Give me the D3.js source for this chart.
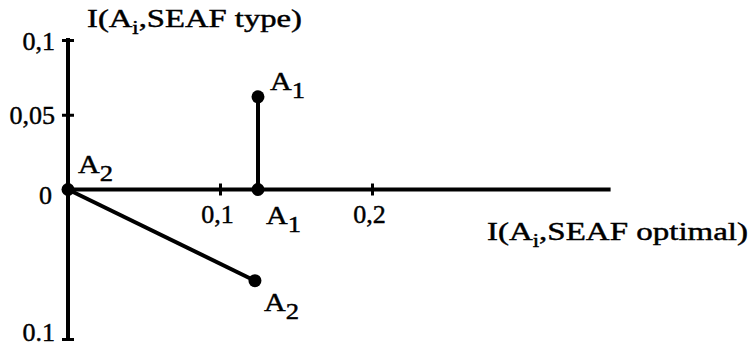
<!DOCTYPE html>
<html>
<head>
<meta charset="utf-8">
<script src="https://cdn.jsdelivr.net/npm/d3@7"></script>
<style>
  html, body { margin: 0; padding: 0; background: #fff; }
  svg text { font-family: "Liberation Serif", "Times New Roman", serif; fill: #000; stroke: #000; stroke-width: 0.45px; }
</style>
</head>
<body>
<svg id="chart" width="751" height="347"></svg>
<script>
// Alternatives and the two ends of each segment
const alternatives = ["1", "2"];
const optimalStart = [0.125, 0];      // I(Ai, SEAF optimal) at the first end
const typeStart    = [0, 0];          // I(Ai, SEAF type) at the first end
const optimalEnd   = [0.125, 0.123];  // I(Ai, SEAF optimal) at the second end
const typeEnd      = [0.062, -0.061]; // I(Ai, SEAF type) at the second end

// Axis ticks
const xTickValues = [0.1, 0.2];
const xTickLabels = ["0,1", "0,2"];
const yTickValues = [0.1, 0.05, 0, -0.1];
const yTickLabels = ["0,1", "0,05", "0", "0.1"];

const svg = d3.select("#chart");
const x = d3.scaleLinear().domain([0, 0.357]).range([68, 610.6]);
const y = d3.scaleLinear().domain([-0.1, 0.1]).range([339, 40]);
const x0 = x(0), y0 = y(0);

// Horizontal axis
const xAxis = svg.append("g")
  .attr("transform", `translate(0,${y0})`)
  .call(d3.axisBottom(x).tickValues(xTickValues).tickSize(0).tickFormat((d, i) => xTickLabels[i]));
xAxis.select(".domain").attr("stroke", "#000").attr("stroke-width", 4).attr("d", `M${x.range()[0]},0H${x.range()[1]}`);
xAxis.selectAll(".tick line").attr("y1", -6).attr("y2", 6).attr("stroke", "#000").attr("stroke-width", 3);
xAxis.selectAll(".tick text").attr("y", 33).attr("dy", null).attr("font-size", 26).attr("dx", -3);

// Vertical axis
const yAxis = svg.append("g")
  .attr("transform", `translate(${x0},0)`)
  .call(d3.axisLeft(y).tickValues(yTickValues).tickSize(0).tickFormat((d, i) => yTickLabels[i]));
yAxis.select(".domain").attr("stroke", "#000").attr("stroke-width", 4).attr("d", `M0,${y.range()[1] - 2}V${y.range()[0]}`);
yAxis.selectAll(".tick line").attr("x1", -6).attr("x2", 6).attr("stroke", "#000").attr("stroke-width", 3)
  .filter(d => d === 0).remove();
yAxis.selectAll(".tick text").attr("x", -13).attr("dy", "0.35em").attr("font-size", 26)
  .filter(d => d === 0).attr("dy", "0.55em").attr("x", -16);
yAxis.selectAll(".tick text").filter(d => d === -0.1).attr("dy", "0.04em");

// Axis titles
const yTitle = svg.append("text").attr("x", 87).attr("y", 27).attr("font-size", 26)
  .attr("textLength", 215).attr("lengthAdjust", "spacingAndGlyphs");
yTitle.append("tspan").text("I(A");
yTitle.append("tspan").attr("font-size", 18).attr("dy", 7).text("i");
yTitle.append("tspan").attr("dy", -7).text(",SEAF type)");

const xTitle = svg.append("text").attr("x", 487).attr("y", 240).attr("font-size", 26)
  .attr("textLength", 261).attr("lengthAdjust", "spacingAndGlyphs");
xTitle.append("tspan").text("I(A");
xTitle.append("tspan").attr("font-size", 18).attr("dy", 7).text("i");
xTitle.append("tspan").attr("dy", -7).text(",SEAF optimal)");

// Segments
const segs = alternatives.map((a, i) => ({
  a, x1: optimalStart[i], y1: typeStart[i], x2: optimalEnd[i], y2: typeEnd[i]
}));
svg.append("g").selectAll("line").data(segs).join("line")
  .attr("x1", d => x(d.x1)).attr("y1", d => y(d.y1))
  .attr("x2", d => x(d.x2)).attr("y2", d => y(d.y2))
  .attr("stroke", "#000").attr("stroke-width", 4);

// End points
const pts = segs.flatMap(d => [
  { a: d.a, vx: d.x1, vy: d.y1, end: 0 },
  { a: d.a, vx: d.x2, vy: d.y2, end: 1 }
]);
svg.append("g").selectAll("circle").data(pts).join("circle")
  .attr("cx", d => x(d.vx)).attr("cy", d => y(d.vy)).attr("r", 6.5).attr("fill", "#000");

// Point labels: offset from each point
const offsets = {
  "1-0": [8, 34], "1-1": [12, -7], "2-0": [10, -17], "2-1": [9, 30]
};
const lab = svg.append("g").selectAll("text").data(pts).join("text")
  .attr("x", d => x(d.vx) + offsets[`${d.a}-${d.end}`][0])
  .attr("y", d => y(d.vy) + offsets[`${d.a}-${d.end}`][1])
  .attr("font-size", 26)
  .attr("textLength", 35).attr("lengthAdjust", "spacingAndGlyphs");
lab.append("tspan").text("A");
lab.append("tspan").attr("font-size", 23).attr("dy", 8).text(d => d.a);
</script>
</body>
</html>
